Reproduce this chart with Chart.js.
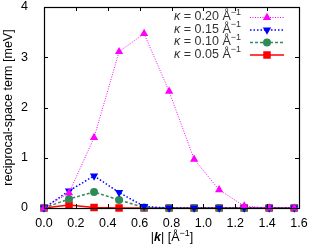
<!DOCTYPE html>
<html>
<head>
<meta charset="utf-8">
<script src="https://cdn.jsdelivr.net/npm/chart.js@4.4.0/dist/chart.umd.min.js"></script>
<style>
    html, body { margin: 0; padding: 0; background: #fff; }
    #wrap { width: 309px; height: 247px; }
</style>
</head>
<body>
<div id="wrap"><canvas id="c" width="309" height="247"></canvas></div>
<script>
// |k| sampling points [1/Å]
const kValues = [0.0, 0.157, 0.314, 0.471, 0.628, 0.785, 0.942, 1.099, 1.256, 1.413, 1.570];

// reciprocal-space term [meV] per kappa
const kappa020 = [0.0, 0.30, 1.40, 3.11, 3.47, 2.32, 0.97, 0.36, 0.04, 0.0, 0.0];
const kappa015 = [0.0, 0.34, 0.64, 0.31, 0.03, 0.0, 0.0, 0.0, 0.0, 0.0, 0.0];
const kappa010 = [0.0, 0.18, 0.32, 0.16, 0.01, 0.0, 0.0, 0.0, 0.0, 0.0, 0.0];
const kappa005 = [0.0, 0.06, 0.01, 0.0, 0.0, 0.0, 0.0, 0.0, 0.0, 0.0, 0.0];

const seriesLabels = ['0.20', '0.15', '0.10', '0.05'];
const xTicks = [0.0, 0.2, 0.4, 0.6, 0.8, 1.0, 1.2, 1.4, 1.6];
const yTicks = [0, 1, 2, 3, 4];

const FONT = '"Liberation Sans", Arial, sans-serif';
const FS = 12.5;

const toXY = vals => vals.map((v, i) => ({ x: kValues[i], y: v }));

const styles = [
    { color: '#ff00ff', dash: [1, 1.5], width: 1, point: 'triangle', rot: 0, r: 4.8 },
    { color: '#0000ff', dash: [1.5, 2], width: 1.5, point: 'triangle', rot: 180, r: 4.8 },
    { color: '#2e8b57', dash: [3, 2], width: 1.5, point: 'circle', rot: 0, r: 4 },
    { color: '#ff0000', dash: [], width: 1.5, point: 'rect', rot: 0, r: 5.3 }
];

const allData = [kappa020, kappa015, kappa010, kappa005];

const datasets = allData.map((vals, i) => ({
    label: seriesLabels[i],
    data: toXY(vals),
    borderColor: styles[i].color,
    backgroundColor: styles[i].color,
    borderWidth: styles[i].width,
    borderDash: styles[i].dash,
    pointStyle: styles[i].point,
    pointRotation: styles[i].rot,
    pointRadius: styles[i].r,
    pointBorderWidth: 0,
    tension: 0,
    clip: false
}));

// inner ticks, frame, legend and axis titles in gnuplot style
const decorations = {
    id: 'decorations',
    afterDraw: (chart) => {
        const { ctx, chartArea: { left, right, top, bottom }, scales: { x, y } } = chart;
        ctx.save();
        ctx.strokeStyle = '#000';
        ctx.lineWidth = 1;
        ctx.setLineDash([]);
        ctx.beginPath();
        xTicks.forEach(t => {
            const px = Math.round(x.getPixelForValue(t)) + 0.5;
            ctx.moveTo(px, bottom); ctx.lineTo(px, bottom - 4);
            ctx.moveTo(px, top); ctx.lineTo(px, top + 4);
        });
        yTicks.forEach(t => {
            const py = Math.round(y.getPixelForValue(t)) + 0.5;
            ctx.moveTo(left, py); ctx.lineTo(left + 4, py);
            ctx.moveTo(right, py); ctx.lineTo(right - 4, py);
        });
        ctx.stroke();
        ctx.lineWidth = 1.2;
        ctx.strokeRect(Math.round(left) + 0.5, Math.round(top) + 0.5,
            Math.round(right - left), Math.round(bottom - top));

        // legend
        const textCol = '#333';
        ctx.textBaseline = 'middle';
        const rowY = [17, 29.5, 42, 54.5];
        seriesLabels.forEach((lab, i) => {
            const yy = rowY[i];
            const s = styles[i];
            ctx.fillStyle = textCol;
            ctx.textAlign = 'right';
            ctx.font = '9px ' + FONT;
            const supW = ctx.measureText('\u22121').width;
            ctx.fillText('\u22121', 241, yy - 4.5);
            ctx.font = FS + 'px ' + FONT;
            const main = ' = ' + lab + ' \u00c5';
            ctx.fillText(main, 241 - supW, yy);
            const mainW = ctx.measureText(main).width;
            ctx.font = 'italic ' + FS + 'px ' + FONT;
            ctx.fillText('\u03ba', 241 - supW - mainW, yy);

            ctx.strokeStyle = s.color;
            ctx.lineWidth = s.width;
            ctx.setLineDash(s.dash);
            ctx.beginPath();
            ctx.moveTo(250, yy + 0.5); ctx.lineTo(284, yy + 0.5);
            ctx.stroke();
            ctx.setLineDash([]);
            ctx.fillStyle = s.color;
            Chart.helpers.drawPoint(ctx, { pointStyle: s.point, rotation: s.rot, radius: s.r, borderWidth: 0 }, 267, yy + 0.5);
        });

        // x axis title: |k| [Å^-1]
        ctx.fillStyle = '#000';
        ctx.textAlign = 'left';
        ctx.textBaseline = 'middle';
        const parts = [
            { t: '|', f: FS + 'px ' + FONT, dy: 0 },
            { t: 'k', f: 'bold italic ' + FS + 'px ' + FONT, dy: 0 },
            { t: '| [\u00c5', f: FS + 'px ' + FONT, dy: 0 },
            { t: '\u22121', f: '9px ' + FONT, dy: -4.5 },
            { t: ']', f: FS + 'px ' + FONT, dy: 0 }
        ];
        let total = 0;
        parts.forEach(p => { ctx.font = p.f; p.w = ctx.measureText(p.t).width; total += p.w; });
        let cx = 172 - total / 2;
        parts.forEach(p => { ctx.font = p.f; ctx.fillText(p.t, cx, 238 + p.dy); cx += p.w; });

        // y axis title
        ctx.translate(9, (top + bottom) / 2);
        ctx.rotate(-Math.PI / 2);
        ctx.textAlign = 'center';
        ctx.font = FS + 'px ' + FONT;
        ctx.fillText('reciprocal-space term [meV]', 0, 0);
        ctx.restore();
    }
};

new Chart(document.getElementById('c'), {
    type: 'line',
    data: { datasets: datasets },
    options: {
        responsive: false,
        animation: false,
        devicePixelRatio: 1,
        layout: { padding: { top: 7, right: 10, left: 0, bottom: 0 } },
        plugins: { legend: { display: false }, tooltip: { enabled: false } },
        scales: {
            x: {
                type: 'linear',
                min: 0, max: 1.6,
                grid: { display: false },
                border: { display: false },
                afterBuildTicks: s => { s.ticks = xTicks.map(v => ({ value: v })); },
                afterFit: s => { s.height = 39; s.paddingLeft = 0; s.paddingRight = 0; },
                ticks: {
                    color: '#000',
                    padding: 0,
                    maxRotation: 0,
                    autoSkip: false,
                    font: { family: FONT, size: FS },
                    callback: v => v.toFixed(1)
                }
            },
            y: {
                type: 'linear',
                min: 0, max: 4,
                grid: { display: false },
                border: { display: false },
                afterBuildTicks: s => { s.ticks = yTicks.map(v => ({ value: v })); },
                afterFit: s => { s.width = 44; s.paddingTop = 0; s.paddingBottom = 0; },
                ticks: {
                    color: '#000',
                    padding: 8,
                    font: { family: FONT, size: FS },
                    callback: v => String(v)
                }
            }
        }
    },
    plugins: [decorations]
});
</script>
</body>
</html>
